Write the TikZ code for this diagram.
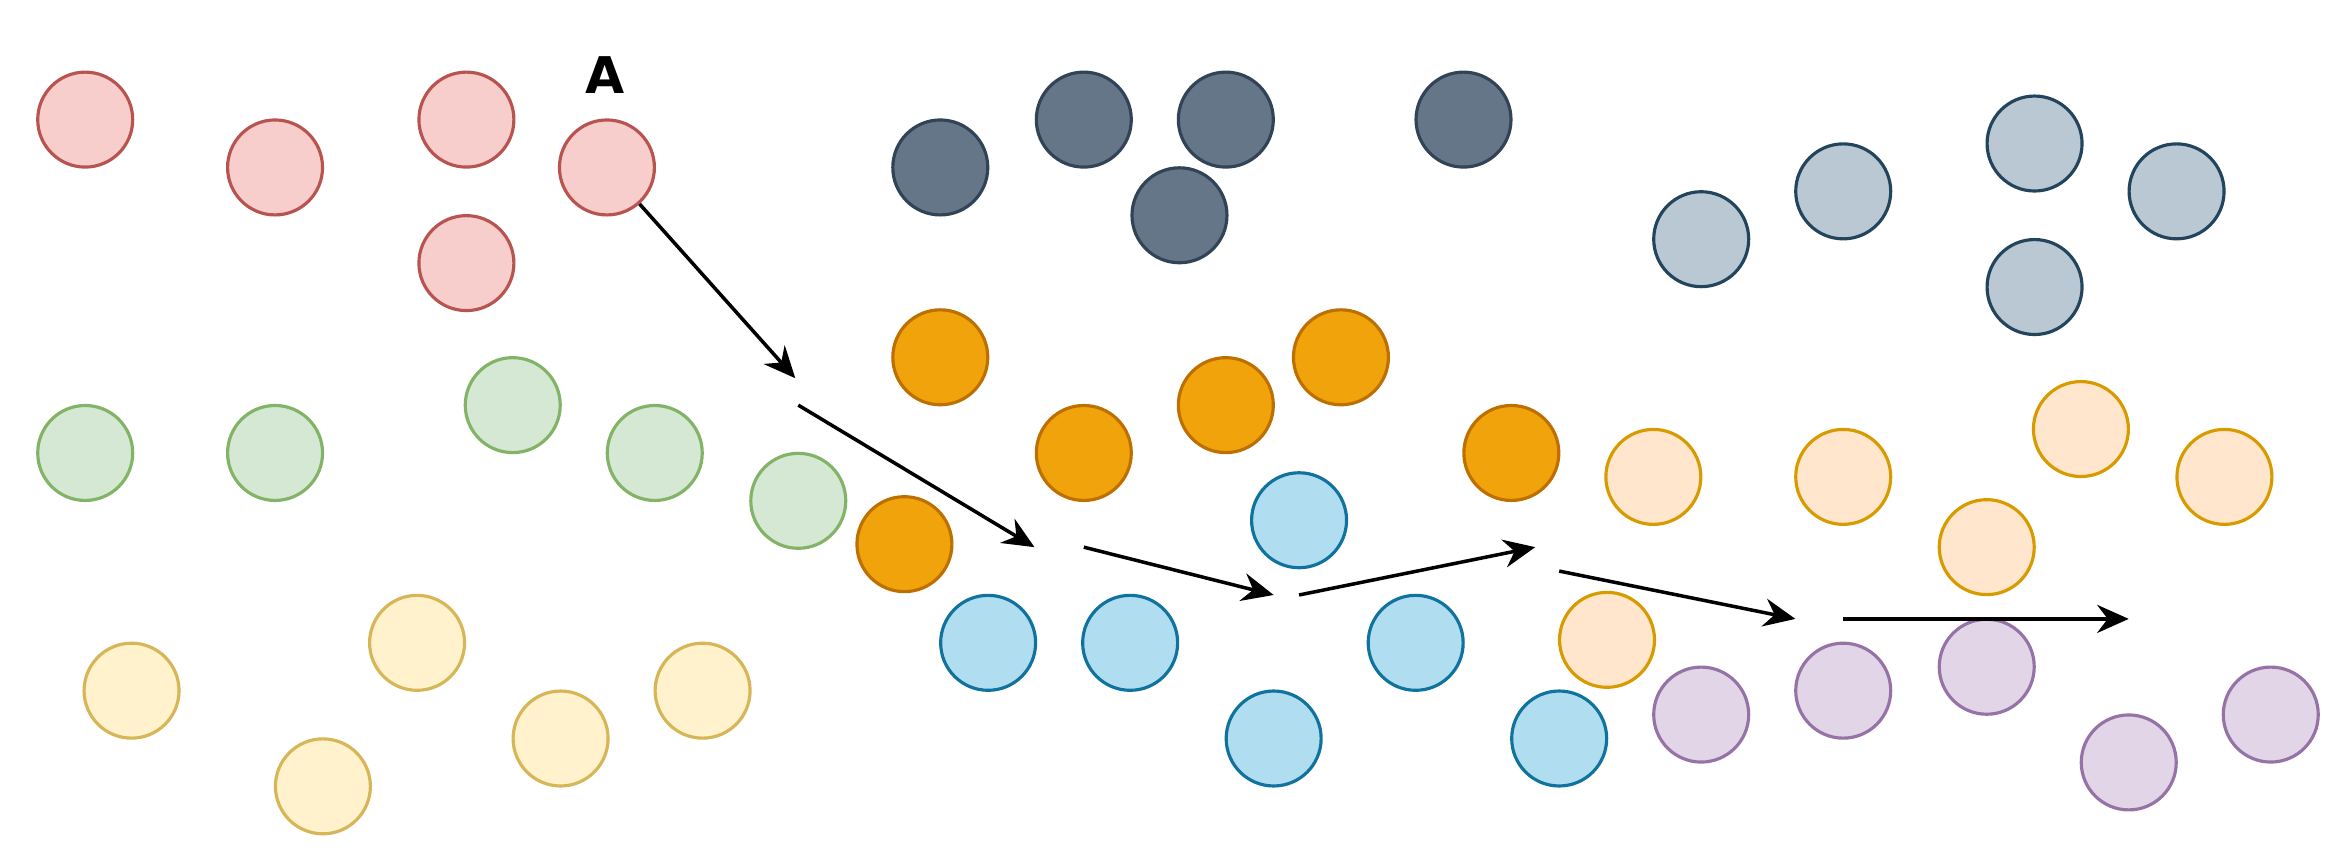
\documentclass[tikz,border=0pt]{standalone}
\usepackage{fontspec}
\setmainfont{DejaVu Sans}
\usetikzlibrary{arrows.meta}
\definecolor{redF}{HTML}{F8CECC}\definecolor{redD}{HTML}{B85450}
\definecolor{grnF}{HTML}{D5E8D4}\definecolor{grnD}{HTML}{82B366}
\definecolor{ylwF}{HTML}{FFF2CC}\definecolor{ylwD}{HTML}{D6B656}
\definecolor{drkF}{HTML}{647687}\definecolor{drkD}{HTML}{314354}
\definecolor{gryF}{HTML}{BAC8D3}\definecolor{gryD}{HTML}{23445D}
\definecolor{orgF}{HTML}{F0A30A}\definecolor{orgD}{HTML}{BD7000}
\definecolor{bluF}{HTML}{B1DDF0}\definecolor{bluD}{HTML}{10739E}
\definecolor{lorF}{HTML}{FFE6CC}\definecolor{lorD}{HTML}{D79B00}
\definecolor{purF}{HTML}{E1D5E7}\definecolor{purD}{HTML}{9673A6}
\tikzset{
  dot/.style={circle,minimum size=0.95cm,inner sep=0pt,line width=0.9pt},
  red/.style={dot,fill=redF,draw=redD},
  grn/.style={dot,fill=grnF,draw=grnD},
  ylw/.style={dot,fill=ylwF,draw=ylwD},
  drk/.style={dot,fill=drkF,draw=drkD},
  gry/.style={dot,fill=gryF,draw=gryD},
  org/.style={dot,fill=orgF,draw=orgD},
  blu/.style={dot,fill=bluF,draw=bluD},
  lor/.style={dot,fill=lorF,draw=lorD},
  pur/.style={dot,fill=purF,draw=purD},
  hop/.style={line width=1pt,-{Stealth[length=9pt,width=8pt,inset=3pt]}}
}
\begin{document}
\begin{tikzpicture}[x=0.01495cm,y=-0.01495cm]
  \useasboundingbox (0,0) rectangle (1568,575);
  % clusters
  \foreach \p [count=\i] in {(57,80),(184,112),(312,80),(312,176)}
    \node[red] (r\i) at \p {};
  \node[red] (a) at (406,112) {};
  \node[font=\bfseries\Large] (lblA) at (405,50) {A};
  \foreach \p [count=\i] in {(629,112),(725,80),(820,80),(789,144),(979,80)}
    \node[drk] (d\i) at \p {};
  \foreach \p [count=\i] in {(1138,160),(1233,128),(1361,96),(1456,128),(1361,192)}
    \node[gry] (g\i) at \p {};
  \foreach \p [count=\i] in {(57,303),(184,303),(343,271),(438,303),(534,335)}
    \node[grn] (e\i) at \p {};
  \foreach \p [count=\i] in {(629,239),(725,303),(820,271),(897,239),(1011,303),(605,364)}
    \node[org] (o\i) at \p {};
  \foreach \p [count=\i] in {(869,348),(661,430),(756,430),(947,430),(852,494),(1043,494)}
    \node[blu] (b\i) at \p {};
  \foreach \p [count=\i] in {(1106,319),(1233,319),(1392,287),(1488,319),(1329,366),(1075,428)}
    \node[lor] (l\i) at \p {};
  \foreach \p [count=\i] in {(1138,478),(1233,462),(1329,446),(1424,510),(1519,478)}
    \node[pur] (p\i) at \p {};
  \foreach \p [count=\i] in {(88,462),(279,430),(470,462),(375,494),(216,526)}
    \node[ylw] (y\i) at \p {};
  % path of A
  \coordinate (s1) at (532,253);
  \coordinate (t2) at (534,271); \coordinate (s2) at (692,366);
  \coordinate (t3) at (725,366); \coordinate (s3) at (852,398);
  \coordinate (t4) at (869,398); \coordinate (s4) at (1027,366);
  \coordinate (t5) at (1043,382); \coordinate (s5) at (1201,414);
  \coordinate (t6) at (1233,414); \coordinate (s6) at (1424,414);
  \draw[hop] (a) -- (s1);
  \draw[hop] (t2) -- (s2);
  \draw[hop] (t3) -- (s3);
  \draw[hop] (t4) -- (s4);
  \draw[hop] (t5) -- (s5);
  \draw[hop] (t6) -- (s6);
\end{tikzpicture}
\end{document}
